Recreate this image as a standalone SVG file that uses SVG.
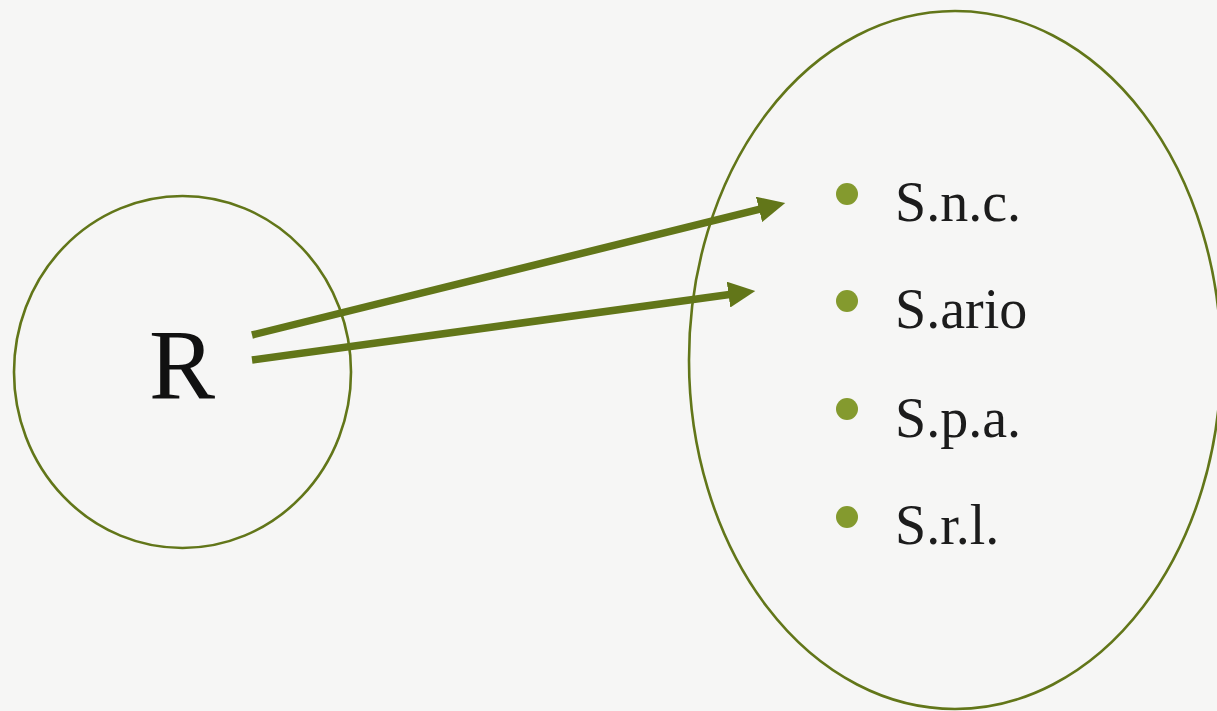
<svg xmlns="http://www.w3.org/2000/svg" width="1217" height="711" viewBox="0 0 1217 711">
<style>
.shape{fill:none;stroke:#627619;stroke-width:2.6}
.conn{stroke:#627619;stroke-width:7.5;fill:none}
.bullet{fill:#849a2e}
.item{font-family:"Liberation Serif",serif;font-size:56px;fill:#1c1c1c}
.big{font-family:"Liberation Serif",serif;font-size:99px;fill:#111}
</style>
<defs>
<marker id="ah" markerUnits="userSpaceOnUse" markerWidth="28" markerHeight="26" refX="1" refY="13" orient="auto">
<path d="M0,0 L27,13 L0,26 Z" fill="#627619"/>
</marker>
</defs>
<rect width="1217" height="711" fill="#f6f6f5"/>
<g id="node-r">
<ellipse class="shape" cx="182.5" cy="372" rx="168.5" ry="176"/>
<text class="big" x="182" y="398" text-anchor="middle">R</text>
</g>
<g id="node-list">
<ellipse class="shape" cx="955" cy="360" rx="266" ry="349"/>
<circle class="bullet" cx="847" cy="194" r="11"/>
<circle class="bullet" cx="847" cy="301" r="11"/>
<circle class="bullet" cx="847" cy="409" r="11"/>
<circle class="bullet" cx="847" cy="517" r="11"/>
<text class="item" x="895" y="221">S.n.c.</text>
<text class="item" x="895" y="328">S.ario</text>
<text class="item" x="895" y="437">S.p.a.</text>
<text class="item" x="895" y="544">S.r.l.</text>
</g>
<g id="connectors">
<line class="conn" x1="252" y1="335" x2="760" y2="209.2" marker-end="url(#ah)"/>
<line class="conn" x1="252" y1="360" x2="729.5" y2="294.5" marker-end="url(#ah)"/>
</g>
</svg>
